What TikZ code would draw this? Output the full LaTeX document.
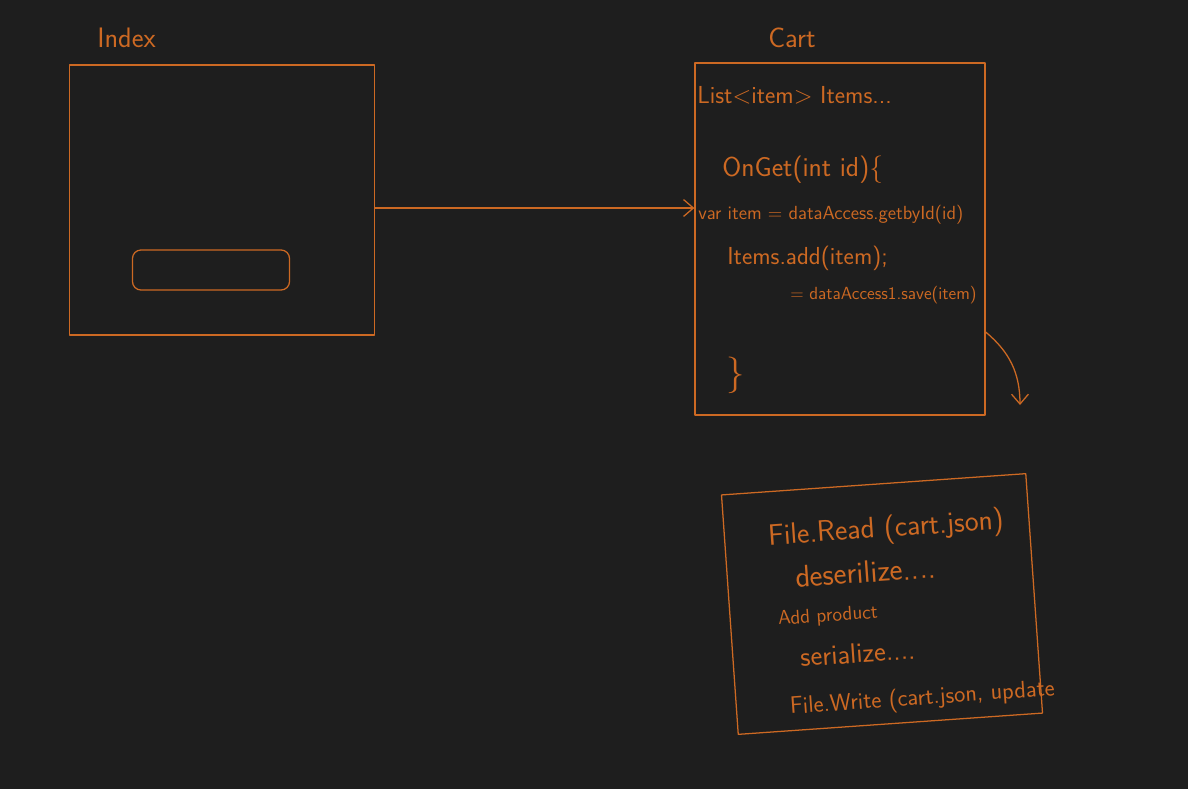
\documentclass[tikz,border=0pt]{standalone}
\usepackage{fontspec}
\usetikzlibrary{arrows.meta}
\definecolor{board}{RGB}{30,30,30}
\definecolor{chalk}{RGB}{205,105,35}
\def\pxl{0.025cm}
\begin{document}
\begin{tikzpicture}[x=0.025cm, y=-0.025cm, line join=round, line cap=round, >={Straight Barb[length=7pt,width=12pt]}]
	\tikzset{
		sketch/.style={draw=chalk, line width=0.9pt},
		frame/.style={sketch, rectangle, inner sep=0pt},
		scrawl/.style={text=chalk, inner sep=0pt, anchor=west, font=\sffamily\fontsize{#1}{#1}\selectfont},
	}
	\fill[board](0,0)rectangle(1188,789);
	\useasboundingbox(0,0)rectangle(1188,789);
	% index page
	\node[scrawl=20](indexlabel) at (97,38){Index};
	\node[frame, minimum width=305*\pxl, minimum height=270*\pxl](index) at (222,200){};
	\node[frame, rounded corners=6pt, minimum width=157*\pxl, minimum height=40*\pxl](field) at (211,270){};
	% cart page
	\node[scrawl=20](cartlabel) at (768,38){Cart};
	\node[frame, minimum width=290*\pxl, minimum height=352*\pxl](cart) at (840,239){};
	\node[scrawl=17.5](listline) at (697,95){List<item> Items...};
	\node[scrawl=19.5](onget) at (722,170){OnGet(int id)\{};
	\node[scrawl=13.5](varline) at (698,215){var item = dataAccess.getbyId(id)};
	\node[scrawl=17.5](addline) at (727,258){Items.add(item);};
	\node[scrawl=12.5](saveline) at (790,295){= dataAccess1.save(item)};
	\node[scrawl=26](closing) at (726,375){\}};
	\draw[sketch,->](index.east|-0,208)--(cart.west|-0,208);
	% storage
	\coordinate(drop) at (1020,405);
	\draw[sketch,->](cart.east|-0,332) to[bend left=25] (drop);
	\node[frame, rotate=4, minimum width=305*\pxl, minimum height=240*\pxl](store) at (882,604){};
	\node[scrawl=21, rotate=4](readline) at (768,538){File.Read (cart.json)};
	\node[scrawl=22, rotate=4](deserline) at (795,577){deserilize....};
	\node[scrawl=14, rotate=4](addprod) at (778,620){Add product};
	\node[scrawl=20, rotate=4](serline) at (800,657){serialize....};
	\node[scrawl=17, rotate=4](writeline) at (790,708){File.Write (cart.json, update};
\end{tikzpicture}
\end{document}
